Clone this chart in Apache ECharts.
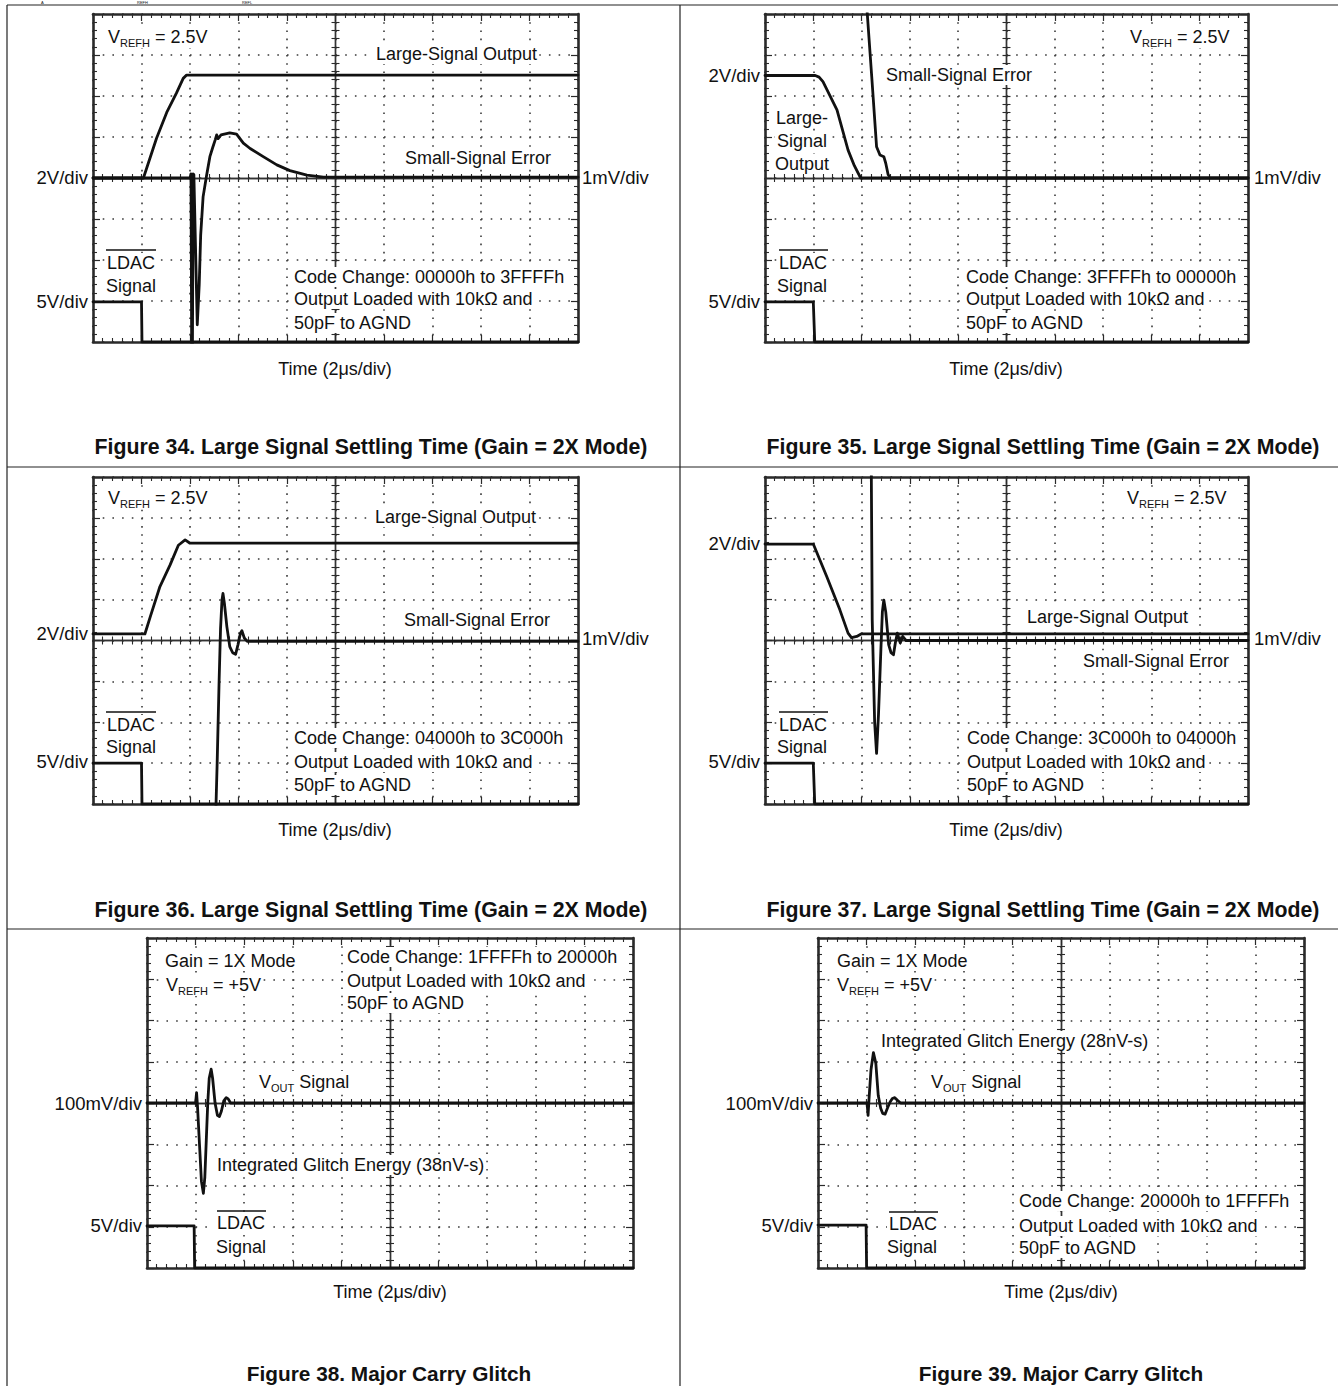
<!DOCTYPE html>
<html>
<head>
<meta charset="utf-8">
<script src="https://cdn.jsdelivr.net/npm/echarts@6/dist/echarts.min.js"></script>
<style>html,body{margin:0;padding:0;background:#fff}#c{width:1338px;height:1386px}</style>
</head>
<body>
<div id="c"></div>
<script>
// ---- scope graticule: 10 horizontal divisions x 8 vertical divisions ----
const X_DIVS = 10;
const Y_DIVS = 8;
const MINOR_PER_DIV = 5;

// ---- traces, [time in divisions, level in divisions from centre line] ----
// Figure 34
const fig34Large = [[0,0],[1.04,0],[1.14,0.36],[1.31,0.97],[1.52,1.6],[1.72,2.07],[1.86,2.43],[1.93,2.51],[10,2.51]];
const fig34Error = [[0,0],[2.0,0],[2.02,0.1],[2.035,-4.3],[2.05,-4.3],[2.065,0.1],[2.08,0.08],[2.15,-3.58],[2.19,-2.6],[2.22,-1.4],[2.27,-0.46],[2.34,0.05],[2.41,0.52],[2.47,0.75],[2.52,0.93],[2.55,1.05],[2.58,0.96],[2.64,1.05],[2.82,1.1],[2.96,1.07],[3.1,0.85],[3.24,0.72],[3.51,0.52],[3.79,0.32],[4.06,0.18],[4.41,0.07],[4.75,0.02],[10,0.02]];
const fig34Ldac = [[0,-3.02],[1.0,-3.02],[1.01,-4],[10,-4]];
// Figure 35
const fig35Large = [[0,2.5],[1.04,2.5],[1.12,2.46],[1.2,2.35],[1.49,1.66],[1.72,0.68],[1.85,0.3],[1.98,0],[10,0]];
const fig35Error = [[2.1,4.3],[2.21,2.47],[2.31,0.76],[2.38,0.56],[2.46,0.52],[2.5,0.36],[2.55,0.08],[2.6,0],[10,0]];
const fig35Ldac = [[0,-3.02],[1.0,-3.02],[1.03,-4],[10,-4]];
// Figure 36
const fig36Large = [[0,0.16],[1.07,0.16],[1.18,0.58],[1.38,1.32],[1.59,1.85],[1.76,2.33],[1.9,2.46],[2.0,2.38],[10,2.38]];
const fig36Error = [[2.53,-4.3],[2.56,-3.0],[2.6,-1.0],[2.63,0.3],[2.66,1.0],[2.68,1.15],[2.71,0.9],[2.76,0.34],[2.82,-0.15],[2.88,-0.3],[2.94,-0.34],[2.99,-0.1],[3.04,0.18],[3.07,0.24],[3.12,0.06],[3.18,-0.02],[10,-0.02]];
const fig36Ldac = [[0,-3.0],[1.0,-3.0],[1.01,-4],[10,-4]];
// Figure 37
const fig37Large = [[0,2.36],[1.0,2.36],[1.28,1.56],[1.55,0.75],[1.72,0.18],[1.79,0.07],[1.9,0.1],[1.99,0.16],[10,0.16]];
const fig37Error = [[2.2,4.3],[2.22,0.5],[2.27,-2.0],[2.31,-2.76],[2.35,-1.8],[2.4,-0.2],[2.43,0.7],[2.46,0.99],[2.5,0.7],[2.56,-0.1],[2.61,-0.3],[2.66,-0.35],[2.7,-0.05],[2.74,0.18],[2.8,-0.06],[2.85,0.1],[2.92,0],[10,0]];
const fig37Ldac = [[0,-3.0],[1.0,-3.0],[1.03,-4],[10,-4]];
// Figure 38
const fig38Vout = [[0,0],[1.0,0],[1.02,0.25],[1.04,-0.1],[1.08,-1.0],[1.12,-1.9],[1.16,-2.19],[1.19,-1.8],[1.22,-0.9],[1.25,0.0],[1.28,0.6],[1.32,0.82],[1.35,0.6],[1.4,0.0],[1.45,-0.3],[1.49,-0.33],[1.53,-0.2],[1.58,0.05],[1.63,0.13],[1.67,0.1],[1.72,0],[10,0]];
const fig38Ldac = [[0,-2.98],[0.97,-2.98],[0.98,-4],[10,-4]];
// Figure 39
const fig39Vout = [[0,0],[1.01,0],[1.03,-0.3],[1.05,0.1],[1.09,0.8],[1.14,1.22],[1.19,0.96],[1.24,0.18],[1.29,-0.13],[1.33,-0.25],[1.38,-0.27],[1.43,-0.12],[1.48,0.02],[1.53,0.11],[1.58,0.13],[1.64,0.06],[1.7,0],[10,0]];
const fig39Ldac = [[0,-2.96],[0.99,-2.96],[1.0,-4],[10,-4]];

// ---- panel layout ----
const panels = [
  {rect:[93,14,485,328],  traces:[fig34Large, fig34Error, fig34Ldac]},
  {rect:[765,14,483,328], traces:[fig35Large, fig35Error, fig35Ldac]},
  {rect:[93,477,485,327], traces:[fig36Large, fig36Error, fig36Ldac]},
  {rect:[765,477,483,327],traces:[fig37Large, fig37Error, fig37Ldac]},
  {rect:[147,938,486,330],traces:[fig38Vout, fig38Ldac]},
  {rect:[818,938,486,330],traces:[fig39Vout, fig39Ldac]}
];

const FONT = '"Liberation Sans", Arial, Helvetica, sans-serif';
const INK = '#111';
const FRAME = '#2a2a2a';
const PAD = 2;

const grids = [], xAxes = [], yAxes = [], series = [];

panels.forEach((p, i) => {
  const [l, t, w, h] = p.rect;
  grids.push({left:l, top:t, width:w, height:h, containLabel:false, outerBoundsMode:'none'});
  const dotV = h / Y_DIVS / MINOR_PER_DIV;
  const dotH = w / X_DIVS / MINOR_PER_DIV;
  const frameLine = {show:true, onZero:false, lineStyle:{color:FRAME, width:2.6}};
  const centreLine = {show:true, onZero:false, lineStyle:{color:'#333', width:1.4}};
  const tick = (len, inside) => ({show:true, inside, length:len, lineStyle:{color:FRAME, width:1.2}});
  const minor = (len) => ({show:true, splitNumber:MINOR_PER_DIV, length:len, lineStyle:{color:FRAME, width:1.1}});
  const bx = (extra) => Object.assign({type:'value', gridIndex:i, min:0, max:X_DIVS, interval:1,
    axisLabel:{show:false}, splitLine:{show:false}, minorSplitLine:{show:false}, silent:true}, extra);
  const by = (extra) => Object.assign({type:'value', gridIndex:i, min:-Y_DIVS/2, max:Y_DIVS/2, interval:1,
    axisLabel:{show:false}, splitLine:{show:false}, minorSplitLine:{show:false}, silent:true}, extra);
  xAxes.push(
    bx({position:'bottom', axisLine:frameLine, axisTick:tick(7,true), minorTick:minor(4),
        splitLine:{show:true, lineStyle:{color:'#3a3a3a', width:1.6, type:[1.6, dotV-1.6]}}}),
    bx({position:'top', axisLine:frameLine, axisTick:tick(7,true), minorTick:minor(4)}),
    bx({position:'bottom', offset:-h/2, axisLine:centreLine, axisTick:tick(4,false), minorTick:minor(4)}),
    bx({position:'bottom', offset:-h/2, axisLine:centreLine, axisTick:tick(4,true), minorTick:minor(4)})
  );
  yAxes.push(
    by({position:'left', axisLine:frameLine, axisTick:tick(7,true), minorTick:minor(4),
        splitLine:{show:true, lineStyle:{color:'#3a3a3a', width:1.6, type:[1.6, dotH-1.6]}}}),
    by({position:'right', axisLine:frameLine, axisTick:tick(7,true), minorTick:minor(4)}),
    by({position:'left', offset:-w/2, axisLine:centreLine, axisTick:tick(4,false), minorTick:minor(4)}),
    by({position:'left', offset:-w/2, axisLine:centreLine, axisTick:tick(4,true), minorTick:minor(4)})
  );
  p.traces.forEach(d => series.push({
    type:'line', xAxisIndex:4*i, yAxisIndex:4*i, data:d, symbol:'none', showSymbol:false,
    clip:true, silent:true, z:3, lineStyle:{color:INK, width:2.8, join:'round', cap:'round'}
  }));
});

// ---- texts ----
const graphics = [];
function T(x, y, text, o = {}) {
  const bg = !o.plain;
  graphics.push({type:'text', x: bg && (o.align||'left') === 'left' ? x - PAD : x, y, z:1, silent:true,
    style:{text, fontSize:o.size||18, fontFamily:FONT, fontWeight:o.bold?'bold':'normal', fill:INK,
      align:o.align||'left', verticalAlign:o.va||'middle',
      backgroundColor: bg ? '#fff' : null, padding: bg ? [1,PAD] : 0}});
}
function S(x, y, main, sub, rest) {
  graphics.push({type:'text', x: x - PAD, y, z:1, silent:true,
    style:{text:`{m|${main}}{s|${sub}}{m|${rest}}`, align:'left', verticalAlign:'middle',
      backgroundColor:'#fff', padding:[1,PAD],
      rich:{m:{fontSize:18, fontFamily:FONT, fill:INK, lineHeight:20},
            s:{fontSize:11, fontFamily:FONT, fill:INK, lineHeight:11, padding:[12,0,0,0]}}}});
}
function OL(x1, x2, y) {
  graphics.push({type:'line', z:2, silent:true, shape:{x1, y1:y, x2, y2:y}, style:{stroke:INK, lineWidth:1.6}});
}
function L(x1, y1, x2, y2) {
  graphics.push({type:'line', z:0, silent:true, shape:{x1, y1, x2, y2}, style:{stroke:'#222', lineWidth:1.2}});
}
const plain = {plain:true};
const TIME = 'Time (2\u03bcs/div)';
const OHM = 'Output Loaded with 10k\u03a9 and';
const CAP1 = 'Large Signal Settling Time (Gain = 2X Mode)';
const CAPF = {plain:true, align:'center', bold:true, size:21.3};
const CAPG = {plain:true, align:'center', bold:true, size:20.8};
const RIGHT = {plain:true, align:'right', size:18.5};
const SIDE = {plain:true, size:18.5};

// page frame
L(7,5,1338,5); L(7,5,7,1386); L(680,5,680,1386); L(7,467,1338,467); L(7,929,1338,929);
// remains of the line of text above the frame
T(41, 4.5, 'A', {plain:true, size:4, va:'bottom'});
T(137, 4.5, 'REFH', {plain:true, size:4, va:'bottom'});
T(242, 4.5, 'REFL', {plain:true, size:4, va:'bottom'});

// Figure 34
S(108, 37, 'V', 'REFH', ' = 2.5V');
T(376, 54, 'Large-Signal Output');
T(405, 158, 'Small-Signal Error');
T(107, 263, 'LDAC'); OL(106, 156, 250);
T(106, 286, 'Signal');
T(294, 277, 'Code Change: 00000h to 3FFFFh');
T(294, 299, OHM);
T(294, 323, '50pF to AGND');
T(88, 177, '2V/div', RIGHT);
T(88, 301, '5V/div', RIGHT);
T(582, 177, '1mV/div', SIDE);
T(335, 369, TIME, {plain:true, align:'center'});
T(371, 447, 'Figure 34. ' + CAP1, CAPF);

// Figure 35
S(1130, 37, 'V', 'REFH', ' = 2.5V');
T(886, 75, 'Small-Signal Error');
T(776, 118, 'Large-');
T(777, 141, 'Signal');
T(775, 164, 'Output');
T(779, 263, 'LDAC'); OL(779, 828, 250);
T(777, 286, 'Signal');
T(966, 277, 'Code Change: 3FFFFh to 00000h');
T(966, 299, OHM);
T(966, 323, '50pF to AGND');
T(760, 75, '2V/div', RIGHT);
T(760, 301, '5V/div', RIGHT);
T(1254, 177, '1mV/div', SIDE);
T(1006, 369, TIME, {plain:true, align:'center'});
T(1043, 447, 'Figure 35. ' + CAP1, CAPF);

// Figure 36
S(108, 498, 'V', 'REFH', ' = 2.5V');
T(375, 517, 'Large-Signal Output');
T(404, 620, 'Small-Signal Error');
T(107, 725, 'LDAC'); OL(106, 156, 712);
T(106, 747, 'Signal');
T(294, 738, 'Code Change: 04000h to 3C000h');
T(294, 762, OHM);
T(294, 785, '50pF to AGND');
T(88, 633, '2V/div', RIGHT);
T(88, 761, '5V/div', RIGHT);
T(582, 638, '1mV/div', SIDE);
T(335, 830, TIME, {plain:true, align:'center'});
T(371, 910, 'Figure 36. ' + CAP1, CAPF);

// Figure 37
S(1127, 498, 'V', 'REFH', ' = 2.5V');
T(1027, 617, 'Large-Signal Output');
T(1083, 661, 'Small-Signal Error');
T(779, 725, 'LDAC'); OL(779, 828, 712);
T(777, 747, 'Signal');
T(967, 738, 'Code Change: 3C000h to 04000h');
T(967, 762, OHM);
T(967, 785, '50pF to AGND');
T(760, 543, '2V/div', RIGHT);
T(760, 761, '5V/div', RIGHT);
T(1254, 638, '1mV/div', SIDE);
T(1006, 830, TIME, {plain:true, align:'center'});
T(1043, 910, 'Figure 37. ' + CAP1, CAPF);

// Figure 38
T(165, 961, 'Gain = 1X Mode');
S(166, 985, 'V', 'REFH', ' = +5V');
T(347, 957, 'Code Change: 1FFFFh to 20000h');
T(347, 981, OHM);
T(347, 1003, '50pF to AGND');
S(259, 1082, 'V', 'OUT', ' Signal');
T(217, 1165, 'Integrated Glitch Energy (38nV-s)');
T(217, 1223, 'LDAC'); OL(217, 266, 1211);
T(216, 1247, 'Signal');
T(142, 1103, '100mV/div', RIGHT);
T(142, 1225, '5V/div', RIGHT);
T(390, 1292, TIME, {plain:true, align:'center'});
T(389, 1373, 'Figure 38. Major Carry Glitch', CAPG);

// Figure 39
T(837, 961, 'Gain = 1X Mode');
S(837, 985, 'V', 'REFH', ' = +5V');
T(881, 1041, 'Integrated Glitch Energy (28nV-s)');
S(931, 1082, 'V', 'OUT', ' Signal');
T(889, 1224, 'LDAC'); OL(889, 938, 1212);
T(887, 1247, 'Signal');
T(1019, 1201, 'Code Change: 20000h to 1FFFFh');
T(1019, 1226, OHM);
T(1019, 1248, '50pF to AGND');
T(813, 1103, '100mV/div', RIGHT);
T(813, 1225, '5V/div', RIGHT);
T(1061, 1292, TIME, {plain:true, align:'center'});
T(1061, 1373, 'Figure 39. Major Carry Glitch', CAPG);

const chart = echarts.init(document.getElementById('c'), null, {renderer:'svg', width:1338, height:1386});
chart.setOption({
  animation:false,
  backgroundColor:'#fff',
  grid:grids,
  xAxis:xAxes,
  yAxis:yAxes,
  series:series,
  graphic:{elements:graphics}
});
</script>
</body>
</html>
